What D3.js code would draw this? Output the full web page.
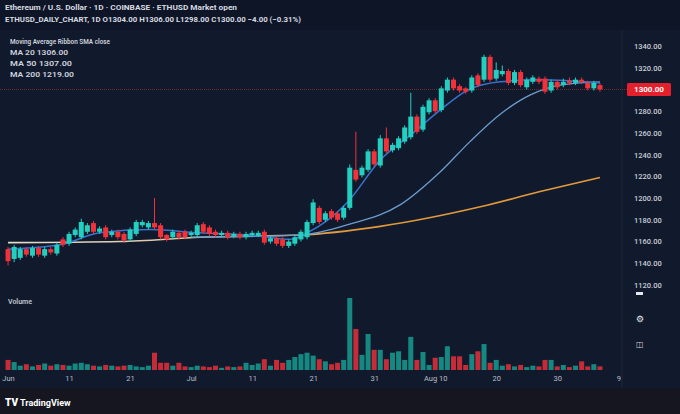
<!DOCTYPE html>
<html>
<head>
<meta charset="utf-8">
<script src="https://cdn.jsdelivr.net/npm/d3@7"></script>
<style>
  body { margin: 0; background: #111a2d; }
  svg { display: block; font-family: Roboto, "Noto Sans", sans-serif; }
</style>
</head>
<body>
<div id="chart"></div>
<script>
// Candles (daily)
const opens = [1153,1144,1145,1153,1147,1154,1147,1153,1149,1162, 1158,1166,1164,1169,1177,1169,1173,1166,1169,1167,
  1162,1167,1175,1173,1177,1175,1166,1164,1168,1169, 1166,1166,1176,1173,1169,1166,1168,1165,1167,1164,
  1166,1165,1169,1160,1163,1162,1156,1158,1162,1164, 1177,1191,1180,1188,1186,1182,1191,1226,1221,1226,
  1243,1230,1255,1244,1246,1252,1256,1275,1263,1279, 1290,1281,1299,1309,1303,1301,1299,1313,1309,1330,
  1310,1314,1317,1306,1316,1302,1307,1310,1310,1299, 1307,1304,1308,1306,1309,1306,1301,1304];
const closes = [1142,1155,1153,1148,1154,1148,1153,1150,1157,1157, 1167,1171,1178,1175,1169,1172,1164,1169,1164,1161,
  1171,1178,1178,1177,1173,1164,1162,1169,1164,1164, 1168,1175,1169,1167,1166,1168,1164,1167,1164,1167,
  1168,1168,1159,1163,1158,1156,1160,1164,1169,1178, 1196,1178,1186,1182,1180,1191,1228,1217,1228,1243,
  1231,1255,1243,1249,1255,1265,1275,1261,1284,1290, 1280,1301,1309,1301,1299,1298,1311,1304,1330,1309,
  1318,1317,1306,1316,1304,1309,1311,1307,1298,1307, 1302,1307,1306,1309,1307,1301,1306,1300];
const highs = [1155,1157,1155,1155,1156,1156,1155,1155,1159,1164, 1169,1173,1181,1177,1179,1174,1175,1171,1171,1169,
  1173,1180,1180,1179,1200,1177,1167,1171,1170,1171, 1170,1177,1178,1175,1171,1170,1170,1169,1169,1169,
  1170,1170,1171,1165,1165,1164,1162,1166,1171,1180, 1199,1193,1188,1190,1188,1193,1231,1261,1230,1245,
  1245,1258,1265,1251,1257,1267,1297,1277,1286,1292, 1292,1303,1311,1311,1305,1302,1313,1315,1332,1332,
  1325,1322,1319,1318,1318,1311,1313,1312,1312,1309, 1309,1310,1311,1311,1311,1308,1308,1306];
const lows = [1138,1141,1143,1146,1145,1146,1145,1148,1147,1155, 1156,1164,1162,1167,1167,1167,1162,1164,1162,1159,
  1160,1165,1173,1171,1171,1162,1160,1162,1162,1162, 1164,1164,1167,1165,1164,1164,1162,1163,1162,1162,
  1164,1164,1157,1158,1156,1154,1154,1156,1160,1162, 1175,1176,1178,1180,1178,1180,1189,1215,1219,1224,
  1229,1228,1241,1242,1244,1250,1254,1259,1261,1277, 1278,1279,1297,1299,1297,1296,1297,1302,1307,1307,
  1308,1312,1304,1304,1302,1300,1305,1305,1296,1297, 1300,1302,1304,1304,1305,1299,1299,1298];
const volumes = [14,11,6,8,5,7,9,6,8,7, 6,9,10,8,6,5,7,6,5,6, 7,5,4,6,24,10,10,6,10,5,
  4,6,5,4,6,3,5,4,5,10, 7,9,15,6,14,10,14,18,22,24, 20,15,12,8,10,14,100,57,21,50,
  28,28,15,24,26,14,46,14,25,7, 17,18,33,19,19,7,22,26,36,10, 14,6,8,5,7,4,6,5,14,14,
  5,7,4,6,12,5,8,5];

// Moving averages (candle index, value)
const ma20Idx = [0, 8.5, 15, 23.3, 31.5, 39.7, 46.2, 49, 55.6, 61, 66.4, 70.8, 75.2, 80.6, 87.2, 97];
const ma20Val = [1153, 1157, 1168, 1171, 1168, 1166, 1162, 1168, 1196, 1235, 1260, 1281, 1299, 1307, 1309, 1306];
const ma50Idx = [30, 47.9, 56, 64.3, 70.8, 75.7, 80.6, 85.6, 90.5, 97];
const ma50Val = [1164, 1166, 1176, 1194, 1224, 1252, 1277, 1295, 1304, 1307];
const ma200Idx = [0, 18.4, 31.5, 47.9, 61, 77.4, 87.2, 97];
const ma200Val = [1159, 1160, 1164, 1166, 1174, 1192, 1206, 1219];

const priceTicks = d3.range(1120, 1341, 20);
const dateTicks = [0, 10, 20, 30, 40, 50, 60, 70, 80, 90, 100];
const dateLabels = ["Jun", "11", "21", "Jul", "11", "21", "31", "Aug 10", "20", "30", "9"];

const W = 680, H = 414;
const upColor = "#22cfc0", downColor = "#f2313a";
const volUp = "#16968b", volDown = "#d92f3a";

const svg = d3.select("#chart").append("svg")
    .attr("width", W)
    .attr("height", H);

// background bands
svg.append("rect").attr("width", W).attr("height", H).attr("fill", "#111a2d");
svg.append("rect").attr("width", W).attr("height", 30).attr("fill", "#0e1526");
svg.append("rect").attr("y", 388).attr("width", W).attr("height", H - 388).attr("fill", "#15161f");
svg.append("line")
    .attr("x1", 622).attr("x2", 622).attr("y1", 30).attr("y2", 388)
    .attr("stroke", "#1c2540");

// scales
const x = d3.scaleLinear().domain([-0.5, 97.5]).range([5, 603]);
const y = d3.scaleLinear().domain([1120, 1340]).range([285, 46]);
const yVol = d3.scaleLinear().domain([0, 100]).range([370, 298]);
const bw = 5;

const candles = opens.map((o, i) => ({
    i, open: o, close: closes[i], high: highs[i], low: lows[i], vol: volumes[i],
    up: closes[i] >= o
}));
const last = candles[candles.length - 1];

// volume bars
svg.append("g").selectAll("rect")
    .data(candles)
    .join("rect")
    .attr("x", d => x(d.i) - bw / 2)
    .attr("width", bw)
    .attr("y", d => yVol(d.vol))
    .attr("height", d => yVol(0) - yVol(d.vol))
    .attr("fill", d => d.up ? volUp : volDown)
    .attr("opacity", 0.9);

// current price line
svg.append("line")
    .attr("x1", 0).attr("x2", 627)
    .attr("y1", y(last.close)).attr("y2", y(last.close))
    .attr("stroke", "#6b2e30")
    .attr("stroke-width", 1)
    .attr("stroke-dasharray", "1,1");

// moving averages
const line = d3.line()
    .x(d => x(d[0]))
    .y(d => y(d[1]))
    .curve(d3.curveMonotoneX);

const grad = svg.append("defs").append("linearGradient")
    .attr("id", "maGrad")
    .attr("gradientUnits", "userSpaceOnUse")
    .attr("x1", 0).attr("x2", 620).attr("y1", 0).attr("y2", 0);
grad.append("stop").attr("offset", "0%").attr("stop-color", "#e4dccb");
grad.append("stop").attr("offset", "38%").attr("stop-color", "#d8c29a");
grad.append("stop").attr("offset", "55%").attr("stop-color", "#e0993a");
grad.append("stop").attr("offset", "100%").attr("stop-color", "#e39a38");

svg.append("path")
    .attr("d", line(ma200Idx.map((d, i) => [d, ma200Val[i]])))
    .attr("fill", "none").attr("stroke", "url(#maGrad)").attr("stroke-width", 1.6);
svg.append("path")
    .attr("d", line(ma50Idx.map((d, i) => [d, ma50Val[i]])))
    .attr("fill", "none").attr("stroke", "#6d9ccc").attr("stroke-width", 1.3);
svg.append("path")
    .attr("d", line(ma20Idx.map((d, i) => [d, ma20Val[i]])))
    .attr("fill", "none").attr("stroke", "#3874cf").attr("stroke-width", 1.5);

// candles
const cg = svg.append("g").selectAll("g")
    .data(candles)
    .join("g");
cg.append("line")
    .attr("x1", d => x(d.i)).attr("x2", d => x(d.i))
    .attr("y1", d => y(d.high)).attr("y2", d => y(d.low))
    .attr("stroke", d => d.up ? upColor : downColor)
    .attr("stroke-width", 1);
cg.append("rect")
    .attr("x", d => x(d.i) - bw / 2)
    .attr("width", bw)
    .attr("y", d => y(Math.max(d.open, d.close)))
    .attr("height", d => Math.max(1.5, Math.abs(y(d.open) - y(d.close))))
    .attr("fill", d => d.up ? upColor : downColor);

// right price axis (skip the tick hidden under the last price label)
svg.append("g")
    .attr("transform", "translate(634,0)")
    .call(d3.axisRight(y)
        .tickValues(priceTicks.filter(p => Math.abs(y(p) - y(last.close)) > 9))
        .tickSize(0).tickPadding(0).tickFormat(d3.format(".2f")))
    .call(g => g.select(".domain").remove())
    .selectAll("text")
    .attr("fill", "#c9cdd6")
    .attr("font-size", 7.5)
    .attr("font-weight", 500)
    .attr("font-family", "Roboto, sans-serif");

// last price label
svg.append("rect")
    .attr("x", 627).attr("y", y(last.close) - 6.5)
    .attr("width", 44).attr("height", 13)
    .attr("rx", 1.5)
    .attr("fill", "#e5202d");
svg.append("text")
    .attr("x", 649).attr("y", y(last.close) + 3)
    .attr("text-anchor", "middle")
    .attr("fill", "#ffffff")
    .attr("font-size", 8).attr("font-weight", 700)
    .text(d3.format(".2f")(last.close));

// volume pane marks on the right
svg.append("rect").attr("x", 636).attr("y", 292).attr("width", 7).attr("height", 3).attr("fill", "#e6e8ee");
svg.append("text").attr("x", 636).attr("y", 322).attr("fill", "#e6e8ee").attr("font-size", 9)
    .attr("font-family", "DejaVu Sans").text("⚙");
svg.append("text").attr("x", 636).attr("y", 347).attr("fill", "#c9cdd6").attr("font-size", 8)
    .attr("font-family", "DejaVu Sans").text("◫");

// bottom time axis
svg.append("g")
    .attr("transform", "translate(0,376)")
    .call(d3.axisBottom(x).tickValues(dateTicks).tickSize(0).tickPadding(0)
        .tickFormat((d, i) => dateLabels[i]))
    .call(g => g.select(".domain").remove())
    .selectAll("text")
    .attr("fill", "#b9bdc7")
    .attr("font-size", 7.5)
    .attr("font-family", "Roboto, sans-serif");

// header texts
const header = svg.append("g")
    .attr("fill", "#d6d9e0")
    .attr("font-weight", 700)
    .attr("font-size", 8);
header.append("text").attr("x", 5).attr("y", 10)
    .attr("textLength", 232).attr("lengthAdjust", "spacingAndGlyphs")
    .text("Ethereum / U.S. Dollar · 1D · COINBASE · ETHUSD  Market open");
header.append("text").attr("x", 5).attr("y", 22)
    .attr("textLength", 296).attr("lengthAdjust", "spacingAndGlyphs")
    .text(`ETHUSD_DAILY_CHART, 1D  O${d3.format(".2f")(last.open)} H${d3.format(".2f")(last.high)} L${d3.format(".2f")(last.low)} C${d3.format(".2f")(last.close)}  −4.00 (−0.31%)`);

// legend
const legend = svg.append("g")
    .attr("fill", "#cfd3db")
    .attr("font-weight", 600)
    .attr("font-size", 7.5);
legend.append("text").attr("x", 10).attr("y", 44)
    .attr("textLength", 100).attr("lengthAdjust", "spacingAndGlyphs")
    .text("Moving Average Ribbon SMA close");
legend.append("text").attr("x", 10).attr("y", 55)
    .attr("textLength", 58).attr("lengthAdjust", "spacingAndGlyphs")
    .text(`MA 20  ${d3.format(".2f")(ma20Val[ma20Val.length - 1])}`);
legend.append("text").attr("x", 10).attr("y", 66)
    .attr("textLength", 62).attr("lengthAdjust", "spacingAndGlyphs")
    .text(`MA 50  ${d3.format(".2f")(ma50Val[ma50Val.length - 1])}`);
legend.append("text").attr("x", 10).attr("y", 77)
    .attr("textLength", 64).attr("lengthAdjust", "spacingAndGlyphs")
    .text(`MA 200  ${d3.format(".2f")(ma200Val[ma200Val.length - 1])}`);

// volume label
svg.append("text").attr("x", 8).attr("y", 304)
    .attr("fill", "#c3c7d0").attr("font-size", 7).attr("font-weight", 600)
    .text("Volume");

// footer logo
svg.append("text").attr("x", 5).attr("y", 406)
    .attr("fill", "#ffffff").attr("font-size", 10).attr("font-weight", 900)
    .text("TV");
svg.append("text").attr("x", 20).attr("y", 406)
    .attr("fill", "#ffffff").attr("font-size", 9).attr("font-weight", 700)
    .text("TradingView");
</script>
</body>
</html>
